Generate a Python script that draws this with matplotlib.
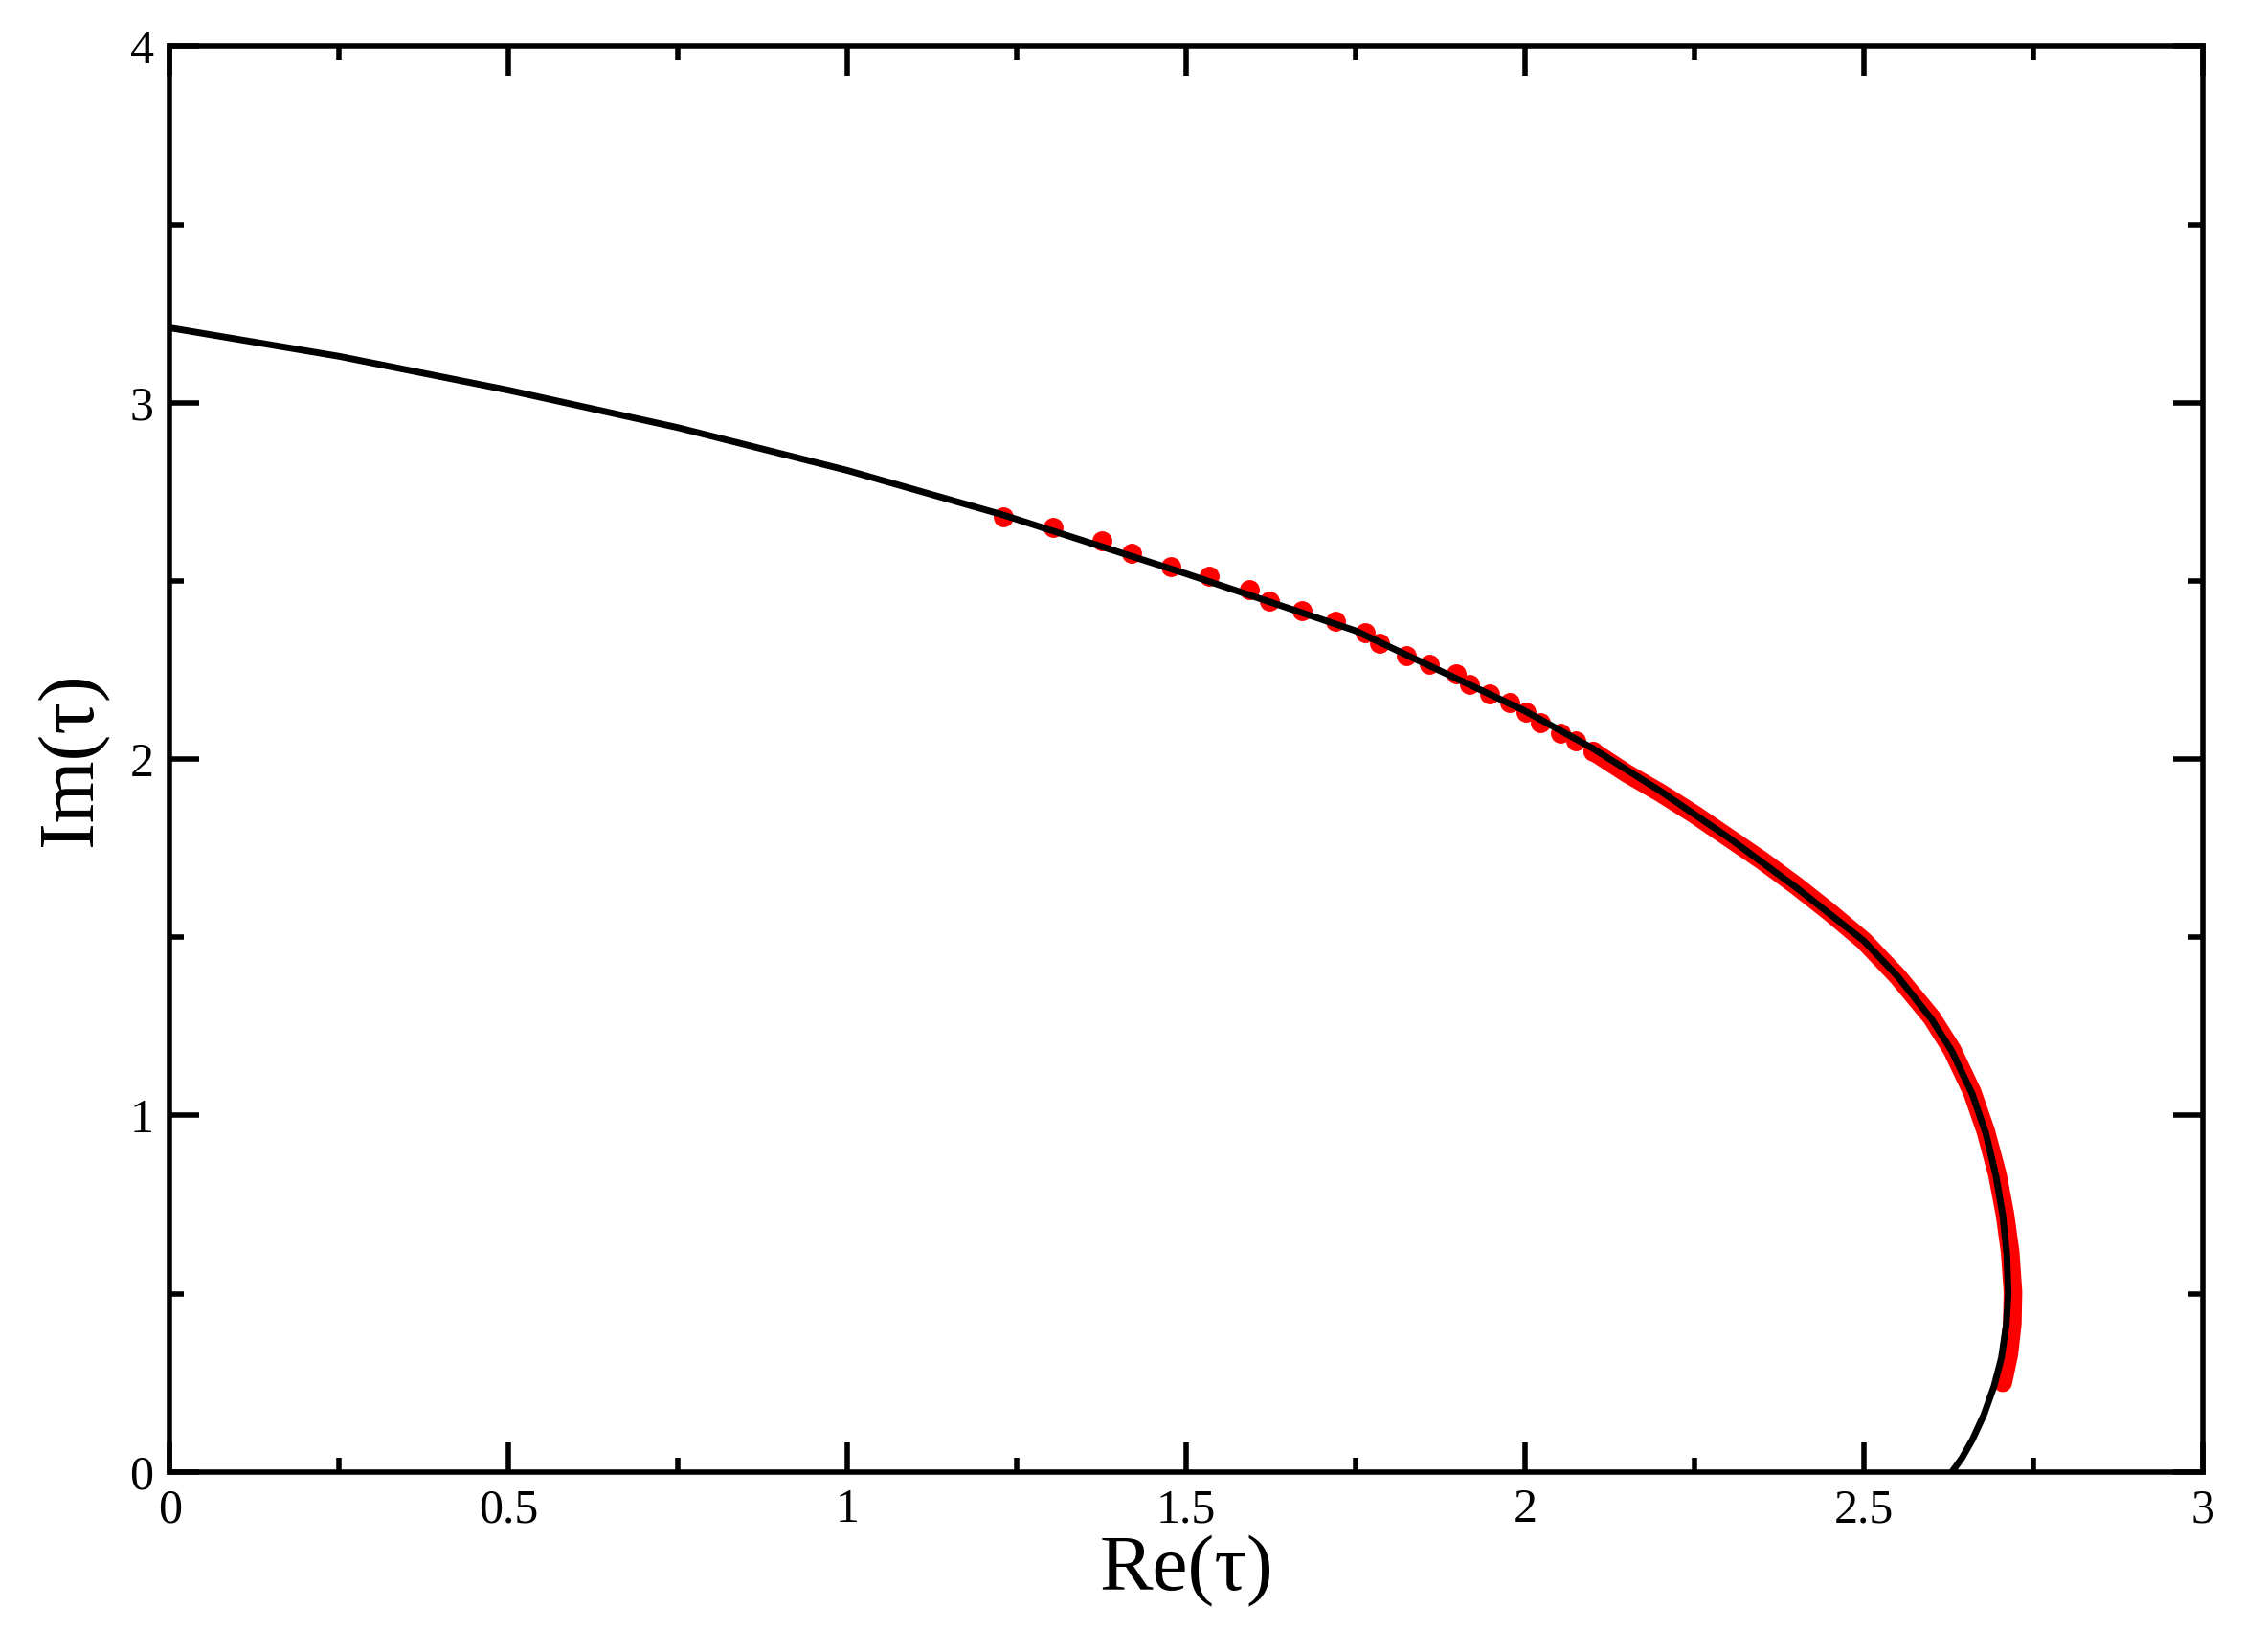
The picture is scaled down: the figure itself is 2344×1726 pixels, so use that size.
import matplotlib
matplotlib.use("Agg")
import matplotlib.pyplot as plt
from matplotlib.ticker import MultipleLocator, FuncFormatter

curve_x = [0, 0.25, 0.5, 0.75, 1.0, 1.23, 1.5, 1.75, 2.0, 2.1, 2.2, 2.3, 2.4, 2.45, 2.5, 2.55, 2.6, 2.63, 2.66, 2.68, 2.695, 2.705, 2.711, 2.713, 2.71, 2.703, 2.692, 2.677, 2.66, 2.645, 2.63]
curve_y = [3.21, 3.13, 3.035, 2.93, 2.81, 2.685, 2.52, 2.36, 2.135, 2.03, 1.91, 1.78, 1.64, 1.565, 1.49, 1.39, 1.27, 1.18, 1.06, 0.95, 0.83, 0.72, 0.61, 0.5, 0.41, 0.32, 0.24, 0.16, 0.09, 0.04, 0.0]

dots_x = [1.230, 1.304, 1.375, 1.420, 1.477, 1.534, 1.593, 1.623, 1.671, 1.720, 1.764, 1.785, 1.825, 1.859, 1.899, 1.918, 1.948, 1.978, 2.001, 2.022, 2.052, 2.075, 2.100]
dots_y = [2.681, 2.649, 2.613, 2.577, 2.541, 2.513, 2.476, 2.444, 2.416, 2.388, 2.356, 2.324, 2.291, 2.267, 2.239, 2.211, 2.183, 2.159, 2.131, 2.103, 2.074, 2.050, 2.022]

dense_x = [2.10, 2.15, 2.2, 2.25, 2.3, 2.35, 2.4, 2.45, 2.5, 2.55, 2.6, 2.63, 2.66, 2.68, 2.697, 2.708, 2.716, 2.720, 2.719, 2.714, 2.705]
dense_y = [2.022, 1.96, 1.905, 1.845, 1.78, 1.715, 1.645, 1.57, 1.49, 1.39, 1.275, 1.185, 1.065, 0.955, 0.835, 0.725, 0.615, 0.505, 0.415, 0.33, 0.25]

plt.rcParams['font.family'] = ['Liberation Serif', 'DejaVu Serif']
fig = plt.figure(figsize=(23.44, 17.26), dpi=100)
ax = fig.add_axes([0.0756, 0.109, 0.9060, 0.863])

ax.plot(dots_x, dots_y, 'o', color='red', ms=14, zorder=2)
ax.plot(dense_x, dense_y, '-', color='red', lw=14, solid_capstyle='round', solid_joinstyle='round', zorder=2)
ax.plot(curve_x, curve_y, '-', color='black', lw=5, solid_joinstyle='round', zorder=3)

ax.set_xlim(0, 3)
ax.set_ylim(0, 4)
ax.xaxis.set_major_locator(MultipleLocator(0.5))
ax.xaxis.set_minor_locator(MultipleLocator(0.25))
ax.yaxis.set_major_locator(MultipleLocator(1))
ax.yaxis.set_minor_locator(MultipleLocator(0.5))
ax.xaxis.set_major_formatter(FuncFormatter(lambda v, p: f"{v:g}"))
ax.yaxis.set_major_formatter(FuncFormatter(lambda v, p: f"{v:g}"))
ax.tick_params(which='both', direction='in', top=True, right=True, width=4)
ax.tick_params(which='major', length=22, labelsize=36, pad=12)
ax.tick_params(which='minor', length=11)
for s in ax.spines.values():
    s.set_linewidth(4)
ax.set_xlabel('Re(τ)', fontsize=60, labelpad=2)
ax.set_ylabel('Im(τ)', fontsize=60, labelpad=16)
fig.savefig('out.png', dpi=100)
